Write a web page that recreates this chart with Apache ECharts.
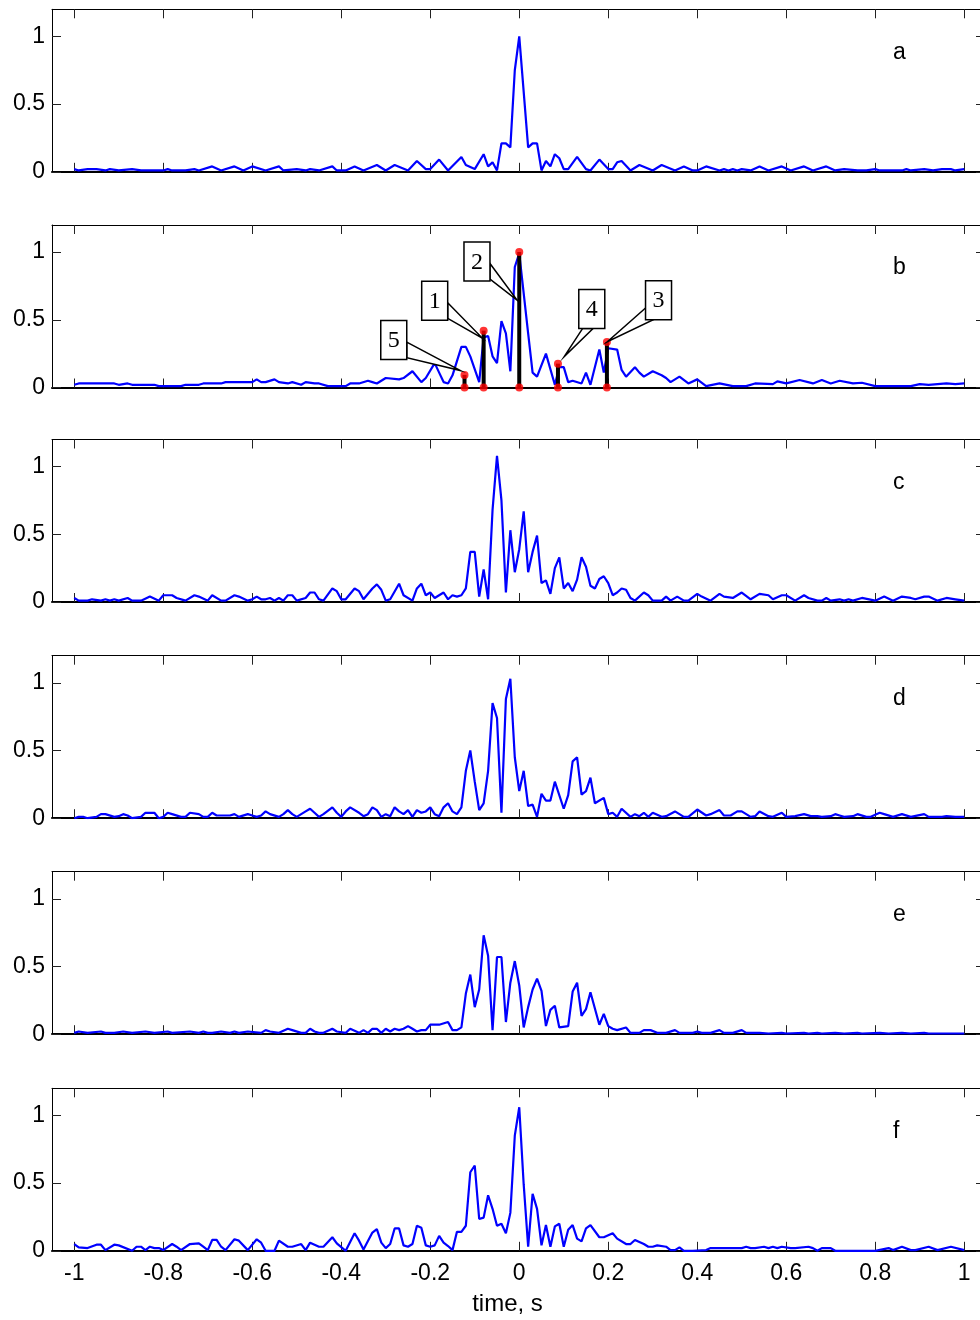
<!DOCTYPE html>
<html><head><meta charset="utf-8">
<script src="https://cdn.jsdelivr.net/npm/echarts@6/dist/echarts.min.js"></script>
<style>html,body{margin:0;padding:0;background:#fff}#chart{width:980px;height:1320px}</style>
</head><body><div id="chart"></div>
<script>
const xTicks = [-1, -0.8, -0.6, -0.4, -0.2, 0, 0.2, 0.4, 0.6, 0.8, 1];
const yTicks = [0, 0.5, 1];
const panelNames = ['a', 'b', 'c', 'd', 'e', 'f'];
const xAxisTitle = 'time, s';

// [time (s), normalized amplitude]
const sigA = [[-1.00,0.02],[-0.99,0.01],[-0.97,0.02],[-0.95,0.02],[-0.93,0.01],[-0.92,0.02],[-0.90,0.01],[-0.87,0.02],[-0.85,0.01],[-0.80,0.01],[-0.79,0.02],[-0.78,0.01],[-0.75,0.01],[-0.73,0.02],[-0.72,0.01],[-0.69,0.04],[-0.67,0.01],[-0.64,0.04],[-0.62,0.01],[-0.60,0.04],[-0.57,0.01],[-0.54,0.04],[-0.53,0.01],[-0.50,0.02],[-0.48,0.01],[-0.47,0.02],[-0.45,0.01],[-0.42,0.04],[-0.41,0.01],[-0.39,0.01],[-0.37,0.04],[-0.35,0.01],[-0.32,0.05],[-0.30,0.01],[-0.28,0.05],[-0.25,0.01],[-0.23,0.08],[-0.21,0.02],[-0.20,0.02],[-0.18,0.09],[-0.16,0.01],[-0.13,0.11],[-0.12,0.05],[-0.10,0.02],[-0.08,0.13],[-0.07,0.04],[-0.06,0.07],[-0.05,0.01],[-0.04,0.21],[-0.03,0.21],[-0.02,0.18],[-0.01,0.75],[0,1.0],[0.02,0.18],[0.03,0.21],[0.04,0.21],[0.05,0.01],[0.06,0.08],[0.07,0.04],[0.08,0.13],[0.09,0.10],[0.10,0.02],[0.11,0.02],[0.13,0.11],[0.15,0.02],[0.16,0.01],[0.18,0.09],[0.20,0.02],[0.21,0.02],[0.22,0.07],[0.23,0.08],[0.25,0.01],[0.27,0.05],[0.30,0.01],[0.32,0.05],[0.35,0.01],[0.37,0.04],[0.39,0.01],[0.40,0.01],[0.42,0.04],[0.45,0.01],[0.46,0.02],[0.47,0.01],[0.48,0.02],[0.49,0.01],[0.50,0.02],[0.52,0.01],[0.54,0.04],[0.56,0.01],[0.59,0.04],[0.61,0.01],[0.64,0.04],[0.66,0.01],[0.69,0.04],[0.71,0.01],[0.73,0.02],[0.76,0.01],[0.78,0.01],[0.80,0.02],[0.81,0.01],[0.86,0.01],[0.87,0.02],[0.88,0.01],[0.91,0.02],[0.93,0.01],[0.95,0.02],[0.97,0.02],[0.98,0.01],[1.00,0.02]];

const sigB = [[-1.00,0.02],[-0.99,0.03],[-0.91,0.03],[-0.90,0.02],[-0.88,0.03],[-0.87,0.02],[-0.82,0.02],[-0.81,0.01],[-0.76,0.01],[-0.75,0.02],[-0.72,0.02],[-0.71,0.03],[-0.67,0.03],[-0.66,0.04],[-0.60,0.04],[-0.59,0.06],[-0.58,0.04],[-0.57,0.04],[-0.55,0.06],[-0.54,0.04],[-0.52,0.03],[-0.51,0.04],[-0.49,0.02],[-0.48,0.04],[-0.46,0.03],[-0.45,0.03],[-0.43,0.01],[-0.39,0.01],[-0.38,0.03],[-0.36,0.03],[-0.34,0.05],[-0.33,0.04],[-0.32,0.03],[-0.30,0.07],[-0.27,0.06],[-0.26,0.07],[-0.24,0.12],[-0.22,0.04],[-0.21,0.07],[-0.19,0.18],[-0.18,0.11],[-0.17,0.04],[-0.16,0.03],[-0.15,0.09],[-0.13,0.30],[-0.12,0.30],[-0.11,0.23],[-0.09,0.04],[-0.08,0.37],[-0.07,0.38],[-0.06,0.23],[-0.05,0.18],[-0.04,0.49],[-0.03,0.40],[-0.02,0.12],[-0.01,0.89],[0,0.99],[0.02,0.40],[0.03,0.11],[0.04,0.08],[0.06,0.25],[0.08,0.02],[0.09,0.15],[0.10,0.15],[0.11,0.04],[0.12,0.05],[0.14,0.03],[0.15,0.11],[0.16,0.02],[0.18,0.28],[0.19,0.11],[0.20,0.29],[0.22,0.28],[0.23,0.13],[0.24,0.08],[0.26,0.15],[0.27,0.11],[0.28,0.08],[0.30,0.12],[0.32,0.09],[0.33,0.07],[0.34,0.04],[0.36,0.08],[0.38,0.03],[0.40,0.06],[0.42,0.01],[0.45,0.03],[0.48,0.01],[0.51,0.01],[0.53,0.03],[0.57,0.025],[0.58,0.045],[0.60,0.03],[0.63,0.055],[0.66,0.03],[0.68,0.055],[0.70,0.03],[0.72,0.05],[0.75,0.03],[0.77,0.035],[0.80,0.01],[0.88,0.01],[0.90,0.025],[0.92,0.02],[0.96,0.03],[0.98,0.025],[1.00,0.03]];

const sigC = [[-1.00,0.03],[-0.99,0.01],[-0.97,0.01],[-0.96,0.02],[-0.94,0.01],[-0.93,0.02],[-0.92,0.01],[-0.91,0.02],[-0.90,0.01],[-0.88,0.03],[-0.87,0.01],[-0.85,0.01],[-0.83,0.04],[-0.81,0.01],[-0.80,0.05],[-0.78,0.05],[-0.77,0.03],[-0.75,0.01],[-0.73,0.05],[-0.72,0.04],[-0.70,0.01],[-0.69,0.05],[-0.67,0.01],[-0.66,0.01],[-0.64,0.05],[-0.63,0.04],[-0.61,0.01],[-0.60,0.02],[-0.59,0.04],[-0.58,0.02],[-0.57,0.02],[-0.56,0.03],[-0.55,0.01],[-0.54,0.03],[-0.53,0.01],[-0.52,0.05],[-0.51,0.05],[-0.50,0.01],[-0.48,0.03],[-0.47,0.07],[-0.46,0.07],[-0.45,0.02],[-0.44,0.01],[-0.42,0.10],[-0.41,0.08],[-0.40,0.02],[-0.39,0.02],[-0.37,0.10],[-0.36,0.08],[-0.35,0.02],[-0.33,0.10],[-0.32,0.13],[-0.31,0.09],[-0.30,0.01],[-0.29,0.02],[-0.27,0.135],[-0.26,0.05],[-0.24,0.01],[-0.23,0.10],[-0.22,0.135],[-0.21,0.05],[-0.20,0.07],[-0.19,0.03],[-0.17,0.07],[-0.16,0.02],[-0.15,0.05],[-0.14,0.04],[-0.13,0.05],[-0.12,0.10],[-0.11,0.37],[-0.10,0.37],[-0.09,0.04],[-0.08,0.24],[-0.07,0.02],[-0.06,0.68],[-0.05,1.08],[-0.04,0.75],[-0.03,0.07],[-0.02,0.53],[-0.01,0.22],[0,0.39],[0.01,0.67],[0.02,0.22],[0.03,0.37],[0.04,0.49],[0.05,0.14],[0.06,0.16],[0.07,0.06],[0.08,0.25],[0.09,0.33],[0.10,0.10],[0.11,0.14],[0.12,0.08],[0.13,0.165],[0.14,0.33],[0.15,0.26],[0.16,0.12],[0.17,0.10],[0.18,0.17],[0.19,0.19],[0.20,0.14],[0.21,0.05],[0.22,0.07],[0.23,0.10],[0.24,0.09],[0.25,0.03],[0.26,0.01],[0.28,0.07],[0.29,0.05],[0.30,0.01],[0.32,0.01],[0.33,0.04],[0.34,0.01],[0.355,0.04],[0.37,0.01],[0.38,0.01],[0.40,0.06],[0.41,0.04],[0.43,0.01],[0.45,0.06],[0.46,0.04],[0.48,0.03],[0.50,0.07],[0.52,0.02],[0.54,0.06],[0.56,0.05],[0.57,0.02],[0.59,0.05],[0.60,0.05],[0.62,0.01],[0.64,0.05],[0.65,0.03],[0.67,0.01],[0.68,0.01],[0.69,0.03],[0.70,0.01],[0.72,0.02],[0.73,0.01],[0.74,0.02],[0.75,0.01],[0.77,0.03],[0.80,0.01],[0.82,0.04],[0.84,0.01],[0.86,0.04],[0.88,0.03],[0.89,0.02],[0.91,0.04],[0.92,0.04],[0.94,0.01],[0.96,0.03],[0.98,0.02],[1.00,0.01]];

const sigD = [[-1.00,0.00],[-0.99,0.01],[-0.98,0.01],[-0.97,0.00],[-0.95,0.01],[-0.94,0.03],[-0.93,0.03],[-0.91,0.01],[-0.90,0.015],[-0.89,0.03],[-0.88,0.02],[-0.87,0.00],[-0.85,0.01],[-0.84,0.04],[-0.82,0.04],[-0.81,0.00],[-0.80,0.01],[-0.79,0.04],[-0.78,0.03],[-0.76,0.01],[-0.75,0.01],[-0.74,0.04],[-0.72,0.03],[-0.71,0.01],[-0.70,0.01],[-0.69,0.04],[-0.68,0.02],[-0.65,0.02],[-0.64,0.03],[-0.63,0.01],[-0.61,0.03],[-0.60,0.02],[-0.59,0.01],[-0.58,0.02],[-0.57,0.05],[-0.56,0.03],[-0.54,0.01],[-0.53,0.03],[-0.52,0.06],[-0.51,0.03],[-0.50,0.01],[-0.48,0.05],[-0.47,0.07],[-0.46,0.04],[-0.45,0.01],[-0.44,0.03],[-0.42,0.08],[-0.41,0.04],[-0.40,0.01],[-0.39,0.05],[-0.38,0.08],[-0.36,0.04],[-0.35,0.015],[-0.34,0.03],[-0.33,0.08],[-0.32,0.06],[-0.31,0.01],[-0.30,0.03],[-0.29,0.015],[-0.28,0.08],[-0.27,0.05],[-0.26,0.03],[-0.25,0.06],[-0.24,0.01],[-0.23,0.06],[-0.22,0.04],[-0.21,0.05],[-0.20,0.08],[-0.19,0.03],[-0.18,0.015],[-0.17,0.08],[-0.16,0.11],[-0.15,0.05],[-0.14,0.03],[-0.13,0.08],[-0.12,0.35],[-0.11,0.50],[-0.10,0.27],[-0.09,0.06],[-0.08,0.11],[-0.07,0.35],[-0.06,0.85],[-0.05,0.74],[-0.04,0.04],[-0.03,0.88],[-0.02,1.03],[-0.01,0.45],[0,0.20],[0.01,0.35],[0.02,0.09],[0.03,0.10],[0.04,0.01],[0.05,0.18],[0.06,0.13],[0.07,0.13],[0.08,0.27],[0.10,0.07],[0.11,0.17],[0.12,0.42],[0.13,0.45],[0.14,0.175],[0.15,0.20],[0.16,0.30],[0.17,0.11],[0.19,0.15],[0.20,0.03],[0.21,0.04],[0.22,0.01],[0.23,0.07],[0.25,0.01],[0.26,0.03],[0.27,0.015],[0.28,0.04],[0.29,0.01],[0.30,0.04],[0.32,0.01],[0.33,0.015],[0.35,0.05],[0.37,0.01],[0.38,0.01],[0.40,0.064],[0.42,0.02],[0.43,0.03],[0.45,0.06],[0.46,0.02],[0.475,0.02],[0.49,0.05],[0.50,0.05],[0.52,0.01],[0.53,0.015],[0.54,0.05],[0.56,0.015],[0.57,0.01],[0.59,0.04],[0.60,0.01],[0.62,0.015],[0.64,0.03],[0.655,0.015],[0.67,0.015],[0.68,0.01],[0.70,0.015],[0.71,0.03],[0.72,0.02],[0.73,0.01],[0.75,0.015],[0.76,0.03],[0.78,0.01],[0.79,0.01],[0.81,0.04],[0.82,0.03],[0.84,0.01],[0.86,0.03],[0.88,0.01],[0.91,0.03],[0.92,0.01],[0.95,0.01],[0.96,0.015],[0.98,0.01],[1.00,0.01]];

const sigE = [[-1.00,0.01],[-0.99,0.02],[-0.97,0.01],[-0.94,0.02],[-0.93,0.01],[-0.91,0.01],[-0.89,0.02],[-0.87,0.01],[-0.84,0.02],[-0.82,0.01],[-0.79,0.02],[-0.78,0.01],[-0.74,0.02],[-0.72,0.01],[-0.71,0.02],[-0.70,0.01],[-0.69,0.01],[-0.67,0.02],[-0.65,0.01],[-0.64,0.02],[-0.63,0.01],[-0.61,0.02],[-0.58,0.01],[-0.57,0.03],[-0.56,0.02],[-0.54,0.01],[-0.52,0.04],[-0.51,0.03],[-0.49,0.01],[-0.48,0.01],[-0.47,0.04],[-0.46,0.02],[-0.45,0.01],[-0.44,0.01],[-0.42,0.04],[-0.41,0.02],[-0.39,0.01],[-0.38,0.04],[-0.36,0.01],[-0.35,0.03],[-0.34,0.01],[-0.33,0.04],[-0.32,0.04],[-0.31,0.01],[-0.30,0.04],[-0.29,0.02],[-0.28,0.04],[-0.27,0.03],[-0.26,0.04],[-0.25,0.06],[-0.24,0.04],[-0.23,0.02],[-0.22,0.03],[-0.21,0.03],[-0.20,0.07],[-0.19,0.07],[-0.18,0.07],[-0.16,0.09],[-0.15,0.03],[-0.14,0.03],[-0.13,0.05],[-0.12,0.30],[-0.11,0.44],[-0.10,0.20],[-0.09,0.33],[-0.08,0.73],[-0.07,0.58],[-0.06,0.03],[-0.05,0.57],[-0.04,0.57],[-0.03,0.09],[-0.02,0.38],[-0.01,0.54],[0,0.36],[0.01,0.05],[0.02,0.20],[0.03,0.33],[0.04,0.41],[0.05,0.32],[0.06,0.06],[0.07,0.18],[0.08,0.21],[0.09,0.05],[0.11,0.06],[0.12,0.315],[0.13,0.38],[0.14,0.135],[0.15,0.185],[0.16,0.31],[0.18,0.07],[0.19,0.15],[0.20,0.06],[0.21,0.04],[0.22,0.03],[0.24,0.05],[0.25,0.01],[0.26,0.01],[0.27,0.01],[0.28,0.03],[0.295,0.03],[0.31,0.01],[0.32,0.01],[0.33,0.01],[0.35,0.03],[0.36,0.01],[0.39,0.01],[0.40,0.02],[0.41,0.01],[0.43,0.01],[0.45,0.03],[0.46,0.01],[0.48,0.01],[0.50,0.03],[0.51,0.01],[0.54,0.01],[0.56,0.005],[0.59,0.01],[0.60,0.005],[0.64,0.01],[0.65,0.005],[0.67,0.01],[0.68,0.005],[0.71,0.01],[0.73,0.005],[0.76,0.01],[0.77,0.005],[0.81,0.01],[0.83,0.005],[0.86,0.01],[0.88,0.005],[0.91,0.01],[0.92,0.005],[1.00,0.005]];

const sigF = [[-1.00,0.05],[-0.99,0.025],[-0.97,0.02],[-0.95,0.045],[-0.94,0.045],[-0.93,0.005],[-0.91,0.045],[-0.90,0.04],[-0.87,0.00],[-0.86,0.03],[-0.85,0.03],[-0.84,0.005],[-0.83,0.03],[-0.82,0.02],[-0.81,0.02],[-0.80,0.005],[-0.78,0.05],[-0.77,0.03],[-0.76,0.005],[-0.74,0.05],[-0.72,0.055],[-0.71,0.03],[-0.70,0.005],[-0.69,0.08],[-0.68,0.08],[-0.67,0.03],[-0.66,0.005],[-0.64,0.085],[-0.63,0.075],[-0.61,0.005],[-0.59,0.085],[-0.58,0.06],[-0.57,0.00],[-0.55,0.00],[-0.54,0.075],[-0.52,0.03],[-0.51,0.03],[-0.49,0.05],[-0.48,0.005],[-0.47,0.06],[-0.46,0.045],[-0.45,0.03],[-0.44,0.03],[-0.42,0.10],[-0.41,0.055],[-0.39,0.00],[-0.37,0.13],[-0.36,0.075],[-0.35,0.01],[-0.33,0.135],[-0.32,0.16],[-0.31,0.06],[-0.30,0.02],[-0.29,0.05],[-0.28,0.165],[-0.27,0.165],[-0.26,0.04],[-0.25,0.03],[-0.24,0.05],[-0.23,0.185],[-0.22,0.17],[-0.21,0.04],[-0.20,0.03],[-0.19,0.04],[-0.18,0.11],[-0.17,0.06],[-0.16,0.035],[-0.15,0.005],[-0.14,0.14],[-0.13,0.14],[-0.12,0.185],[-0.11,0.58],[-0.10,0.63],[-0.09,0.235],[-0.08,0.245],[-0.07,0.41],[-0.06,0.31],[-0.05,0.185],[-0.04,0.20],[-0.03,0.13],[-0.02,0.28],[-0.01,0.85],[0,1.06],[0.01,0.49],[0.02,0.03],[0.03,0.42],[0.04,0.31],[0.05,0.04],[0.06,0.19],[0.07,0.03],[0.08,0.18],[0.09,0.20],[0.10,0.03],[0.11,0.155],[0.12,0.19],[0.13,0.09],[0.14,0.07],[0.15,0.165],[0.16,0.19],[0.18,0.10],[0.19,0.10],[0.21,0.13],[0.22,0.09],[0.24,0.05],[0.25,0.05],[0.26,0.08],[0.28,0.05],[0.29,0.03],[0.30,0.03],[0.31,0.04],[0.33,0.03],[0.34,0.005],[0.35,0.005],[0.36,0.025],[0.37,0.00],[0.39,0.00],[0.42,0.005],[0.43,0.02],[0.50,0.02],[0.51,0.03],[0.52,0.02],[0.53,0.02],[0.55,0.03],[0.56,0.02],[0.57,0.03],[0.58,0.02],[0.59,0.03],[0.61,0.02],[0.62,0.02],[0.65,0.03],[0.66,0.02],[0.67,0.00],[0.68,0.02],[0.70,0.02],[0.71,0.00],[0.80,0.00],[0.83,0.02],[0.84,0.005],[0.86,0.03],[0.88,0.005],[0.89,0.005],[0.92,0.03],[0.94,0.005],[0.97,0.03],[1.00,0.005]];

// panel b: numbered peaks
const markerLabels = ['1', '2', '3', '4', '5'];
const markerTime = [-0.08, 0, 0.197, 0.087, -0.123];
const markerValue = [0.42, 1.0, 0.336, 0.176, 0.093];
// callout pointer tips and box centres, in data units
const calloutTipTime = [-0.083, -0.005, 0.198, 0.101, -0.132];
const calloutTipValue = [0.365, 0.645, 0.338, 0.228, 0.125];
const calloutBoxTime = [-0.19, -0.095, 0.313, 0.163, -0.282];
const calloutBoxValue = [0.64, 0.93, 0.645, 0.58, 0.35];

const signals = [sigA, sigB, sigC, sigD, sigE, sigF];

// ---- layout / style ----
const FONT = '"Liberation Sans", Arial, Helvetica, sans-serif';
const gridTops = [9.3, 225, 439.5, 655.7, 871.7, 1088.3];
const gridLeft = 52, gridHeight = 162.5;
// the original axes run from -1.05 to 1.05 but are cut by the picture's right edge
const X_MIN = -1.05, X_MAX = 1.0354, Y_MIN = 0, Y_MAX = 1.2;
const gridWidth = 928;
const fmt = v => String(Math.round(v * 10) / 10);

const grids = [], xAxes = [], yAxes = [], series = [], graphics = [];
signals.forEach((sig, i) => {
  grids.push({ left: gridLeft, top: gridTops[i], width: gridWidth, height: gridHeight, show: false });
  const last = i === signals.length - 1;
  xAxes.push({ gridIndex: i, type: 'value', min: X_MIN, max: X_MAX, position: 'bottom',
    axisLine: { show: true, onZero: false, lineStyle: { color: '#000', width: 2 } },
    axisTick: { show: true, inside: true, length: 9, customValues: xTicks, lineStyle: { color: '#222', width: 1 } },
    axisLabel: { show: last, customValues: xTicks, margin: 11, fontSize: 23, fontFamily: FONT, color: '#000', formatter: fmt },
    splitLine: { show: false } });
  xAxes.push({ gridIndex: i, type: 'value', min: X_MIN, max: X_MAX, position: 'top',
    axisLine: { show: true, onZero: false, lineStyle: { color: '#000', width: 1 } },
    axisTick: { show: true, inside: true, length: 9, customValues: xTicks, lineStyle: { color: '#222', width: 1 } },
    axisLabel: { show: false }, splitLine: { show: false } });
  yAxes.push({ gridIndex: i, type: 'value', min: Y_MIN, max: Y_MAX, position: 'left',
    axisLine: { show: true, onZero: false, lineStyle: { color: '#000', width: 1 } },
    axisTick: { show: true, inside: true, length: 9, customValues: yTicks, lineStyle: { color: '#222', width: 1 } },
    axisLabel: { show: true, customValues: yTicks, margin: 7, fontSize: 23, fontFamily: FONT, color: '#000', formatter: fmt },
    splitLine: { show: false } });
  yAxes.push({ gridIndex: i, type: 'value', min: Y_MIN, max: Y_MAX, position: 'right',
    axisLine: { show: false, onZero: false },
    axisTick: { show: true, inside: true, length: 4, customValues: yTicks, lineStyle: { color: '#222', width: 1 } },
    axisLabel: { show: false }, splitLine: { show: false } });
  series.push({ type: 'line', xAxisIndex: 2 * i, yAxisIndex: 2 * i, data: sig,
    showSymbol: false, symbol: 'none', z: 2,
    lineStyle: { color: '#0000ff', width: 2.2 }, animation: false });
  graphics.push({ type: 'text', x: 893, y: gridTops[i] + 43,
    style: { text: panelNames[i], font: '23px ' + FONT, fill: '#000', align: 'left', verticalAlign: 'middle' } });
});

// panel b extras
const stemData = markerTime.map((t, k) => [t, markerValue[k]]);
series.push({ type: 'custom', xAxisIndex: 2, yAxisIndex: 2, z: 3, data: stemData, animation: false,
  renderItem: (params, api) => {
    const t = api.value(0), v = api.value(1);
    const p0 = api.coord([t, 0]), p1 = api.coord([t, v]);
    return { type: 'line', shape: { x1: p0[0], y1: p0[1], x2: p1[0], y2: p1[1] },
      style: { stroke: '#000', lineWidth: 4 } };
  } });
const dotData = stemData.concat(markerTime.map(t => [t, 0]));
series.push({ type: 'scatter', xAxisIndex: 2, yAxisIndex: 2, z: 4, data: dotData, clip: false,
  symbol: 'circle', symbolSize: 8, itemStyle: { color: '#ff0000' }, animation: false });
const calloutData = markerLabels.map((l, k) => [calloutTipTime[k], calloutTipValue[k], calloutBoxTime[k], calloutBoxValue[k]]);
series.push({ type: 'custom', xAxisIndex: 2, yAxisIndex: 2, z: 5, data: calloutData, animation: false, clip: false,
  renderItem: (params, api) => {
    const tip = api.coord([api.value(0), api.value(1)]);
    const c = api.coord([api.value(2), api.value(3)]);
    const w = 26, h = 39;
    const L = c[0] - w / 2, R = c[0] + w / 2, T = c[1] - h / 2, B = c[1] + h / 2;
    const dx = tip[0] - c[0], dy = tip[1] - c[1];
    let b1, b2;
    if (dx > 0) { b1 = [R, c[1] + 0.05 * h]; b2 = [R, c[1] + 0.45 * h]; }
    else if (-dx > dy) { b1 = [L, B - 0.3 * h]; b2 = [L + 0.3 * w, B]; }
    else { b1 = [L + 0.15 * w, B]; b2 = [L + 0.55 * w, B]; }
    return { type: 'group', children: [
      { type: 'polygon', shape: { points: [b1, tip, b2] }, style: { fill: '#fff', stroke: '#000', lineWidth: 1.5 } },
      { type: 'rect', shape: { x: L, y: T, width: w, height: h }, style: { fill: '#fff', stroke: '#000', lineWidth: 1.5 } },
      { type: 'text', x: c[0], y: c[1] + 1, style: { text: markerLabels[params.dataIndex], fill: '#000',
          font: '24px "Liberation Serif", "Times New Roman", serif', align: 'center', verticalAlign: 'middle' } }
    ] };
  } });

graphics.push({ type: 'text', x: 507.5, y: 1304,
  style: { text: xAxisTitle, font: '24px ' + FONT, fill: '#000', align: 'center', verticalAlign: 'middle' } });

const chart = echarts.init(document.getElementById('chart'), null, { renderer: 'canvas' });
chart.setOption({
  animation: false,
  backgroundColor: '#ffffff',
  grid: grids, xAxis: xAxes, yAxis: yAxes, series: series, graphic: graphics
});
</script></body></html>
